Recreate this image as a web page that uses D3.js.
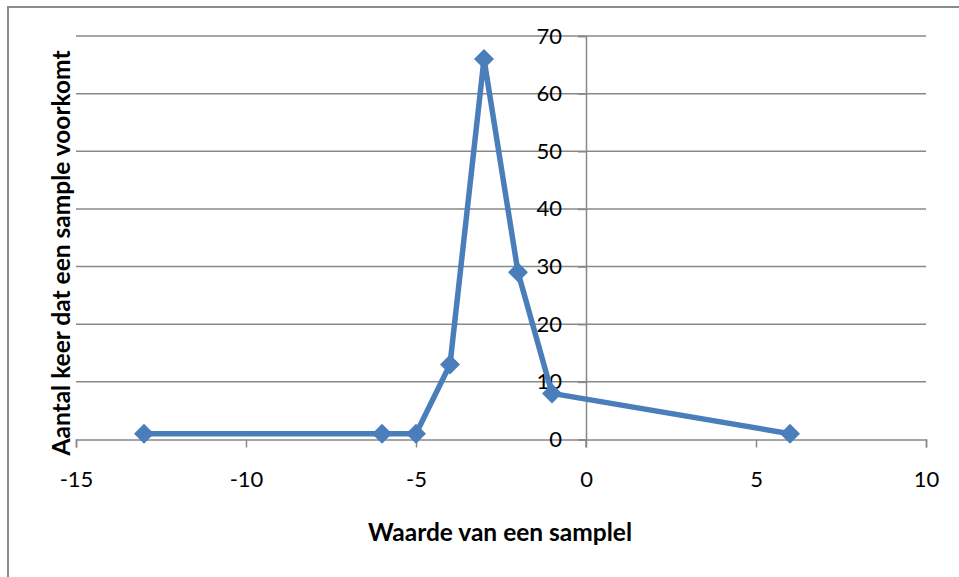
<!DOCTYPE html>
<html>
<head>
<meta charset="utf-8">
<script src="https://cdn.jsdelivr.net/npm/d3@7"></script>
<style>
  html, body { margin: 0; padding: 0; background: #fff; }
  svg { display: block; }
  text { font-family: Lato, "Open Sans", sans-serif; fill: #000; }
</style>
</head>
<body>
<script>
// Sample values and how often each occurs
const sampleValues = [-13, -6, -5, -4, -3, -2, -1, 6];
const counts = [1, 1, 1, 13, 66, 29, 8, 1];
const xTicks = [-15, -10, -5, 0, 5, 10];
const yTicks = [0, 10, 20, 30, 40, 50, 60, 70];
const xTitle = "Waarde van een samplel";
const yTitle = "Aantal keer dat een sample voorkomt";

const W = 959, H = 577;
const svg = d3.select("body").append("svg").attr("width", W).attr("height", H);

// Chart frame (runs off the right and bottom edges)
svg.append("rect")
  .attr("x", 8).attr("y", 7).attr("width", W + 20).attr("height", H + 20)
  .attr("fill", "none").attr("stroke", "#8c8c8c").attr("stroke-width", 2);

const x = d3.scaleLinear().domain([-15, 10]).range([76, 926]);
const y = d3.scaleLinear().domain([0, 70]).range([439.5, 36]);

const gridColor = "#888";
const tickFont = 22;

// Horizontal gridlines
svg.append("g").selectAll("line").data(yTicks.filter(d => d > 0)).join("line")
  .attr("x1", x(-15)).attr("x2", x(10))
  .attr("y1", d => y(d)).attr("y2", d => y(d))
  .attr("stroke", gridColor).attr("stroke-width", 1.5);

// X axis along y = 0
const xAxis = d3.axisBottom(x).tickValues(xTicks).tickSize(8).tickPadding(24)
  .tickFormat(d3.format("d"));
const gx = svg.append("g").attr("transform", `translate(0,${y(0)})`).call(xAxis);
gx.select(".domain").attr("stroke", gridColor).attr("stroke-width", 1.5);
gx.selectAll(".tick line").attr("stroke", gridColor).attr("stroke-width", 1.5);
gx.selectAll(".tick text").attr("font-size", tickFont).attr("font-family", "Lato, 'Open Sans', sans-serif")
  .text(d => d < 0 ? "-" + Math.abs(d) : d);

// Y axis crossing at x = 0
const yAxis = d3.axisLeft(y).tickValues(yTicks).tickSize(8).tickPadding(16)
  .tickFormat(d3.format("d"));
const gy = svg.append("g").attr("transform", `translate(${x(0)},0)`).call(yAxis);
gy.select(".domain").attr("stroke", gridColor).attr("stroke-width", 1.5);
gy.selectAll(".tick line").attr("stroke", gridColor).attr("stroke-width", 1.5);
gy.selectAll(".tick text").attr("font-size", tickFont).attr("font-family", "Lato, 'Open Sans', sans-serif");
// short tick below the axis crossing
svg.append("line")
  .attr("x1", x(0)).attr("x2", x(0)).attr("y1", y(0)).attr("y2", y(0) + 8)
  .attr("stroke", gridColor).attr("stroke-width", 1.5);

// Series line
const pts = sampleValues.map((v, i) => [v, counts[i]]);
const color = "#4a7ebb";
svg.append("path")
  .datum(pts)
  .attr("fill", "none").attr("stroke", color).attr("stroke-width", 5.5)
  .attr("stroke-linejoin", "round")
  .attr("d", d3.line().x(d => x(d[0])).y(d => y(d[1])));

// Diamond markers
svg.append("g").selectAll("path").data(pts).join("path")
  .attr("transform", d => `translate(${x(d[0])},${y(d[1])})`)
  .attr("d", "M0,-10L10,0L0,10L-10,0Z")
  .attr("fill", color);

// Axis titles
svg.append("text")
  .attr("x", 500).attr("y", 541)
  .attr("text-anchor", "middle").attr("font-weight", "bold").attr("font-size", 24.5)
  .text(xTitle);

svg.append("text")
  .attr("transform", `translate(70,253) rotate(-90)`)
  .attr("text-anchor", "middle").attr("font-weight", "bold").attr("font-size", 24.5)
  .text(yTitle);
</script>
</body>
</html>
